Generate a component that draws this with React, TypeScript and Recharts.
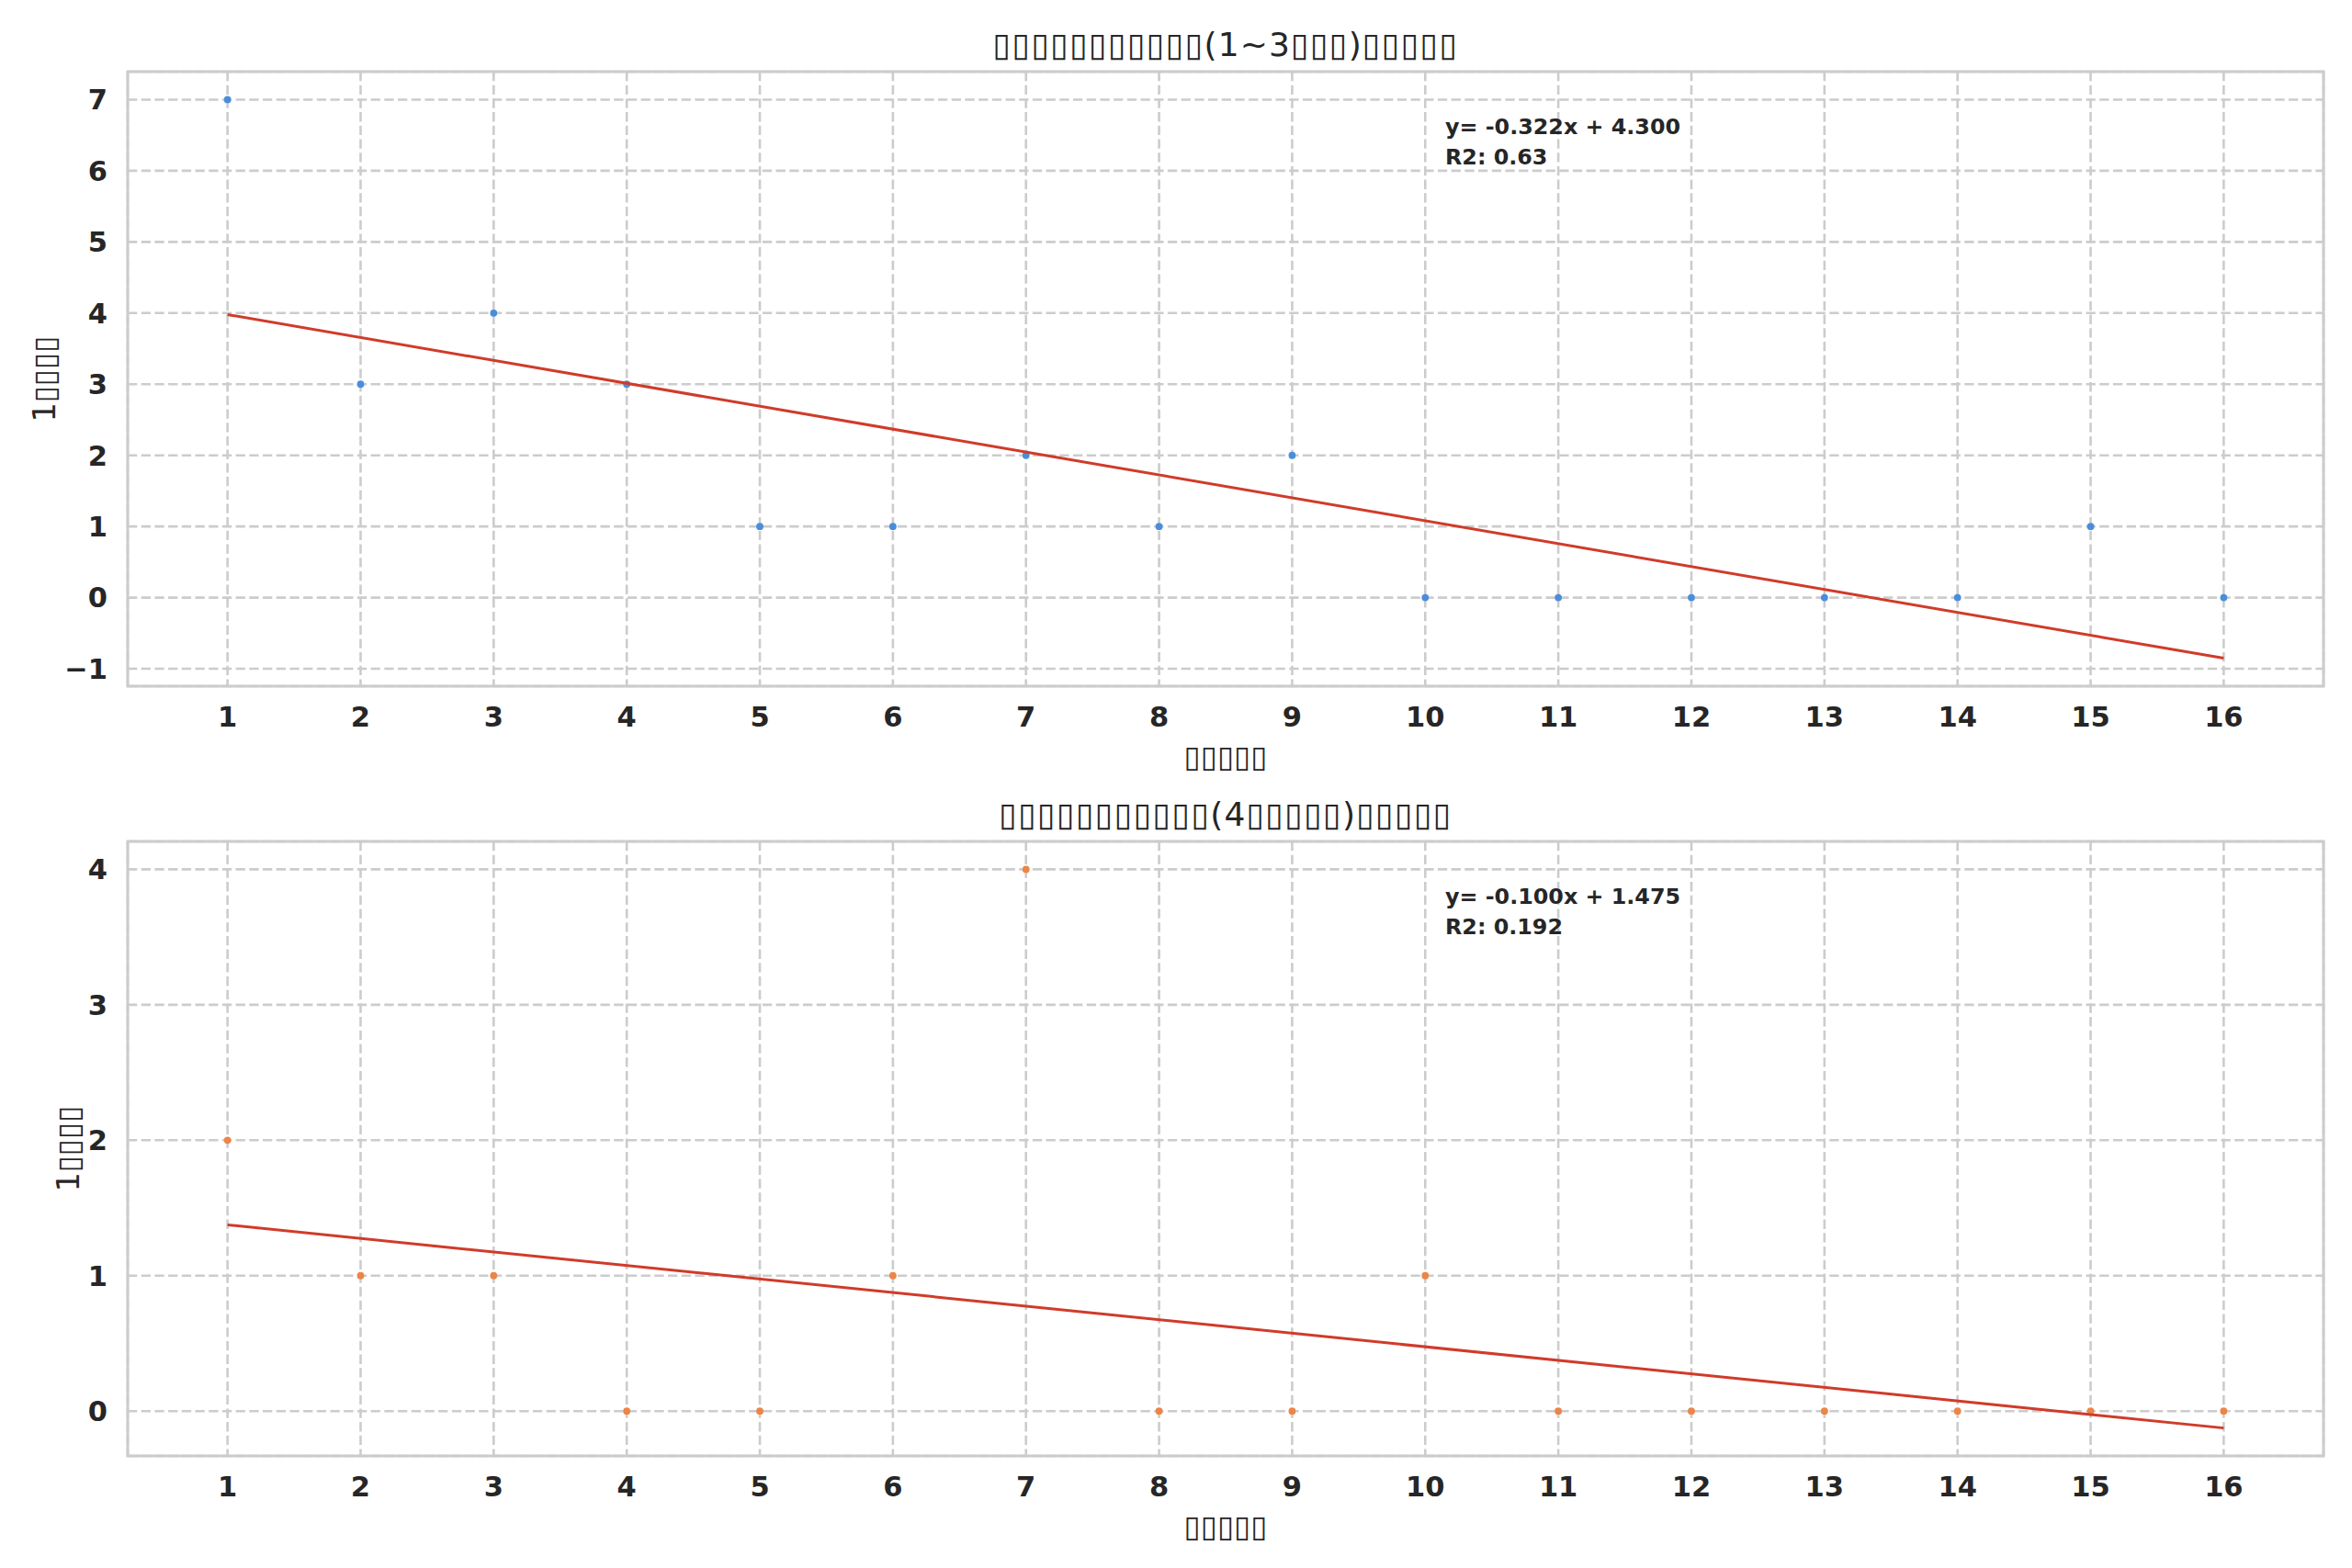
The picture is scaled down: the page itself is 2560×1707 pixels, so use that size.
import React from 'react';
import { ScatterChart, Scatter, XAxis, YAxis, CartesianGrid, ReferenceArea } from 'recharts';

// the source labels were CJK text drawn as missing-glyph boxes; keep them as boxes
const BOX = '\u25AF';

const weeks = [1, 2, 3, 4, 5, 6, 7, 8, 9, 10, 11, 12, 13, 14, 15, 16];
const earlyCounts = [7, 3, 4, 3, 1, 1, 2, 1, 2, 0, 0, 0, 0, 0, 1, 0];
const lateCounts = [2, 1, 1, 0, 0, 1, 4, 0, 0, 1, 0, 0, 0, 0, 0, 0];

const earlyFit = { slope: -0.322, intercept: 4.3, r2: '0.63' };
const lateFit = { slope: -0.1, intercept: 1.475, r2: '0.192' };

const xTicks = weeks;
const earlyYTicks = [-1, 0, 1, 2, 3, 4, 5, 6, 7];
const lateYTicks = [0, 1, 2, 3, 4];
const xDomain = [0.25, 16.75];
const earlyYDomain = [-1.245, 7.393];
const lateYDomain = [-0.331, 4.206];

const earlyTitle = BOX.repeat(11) + '(1~3' + BOX.repeat(3) + ')' + BOX.repeat(5);
const lateTitle = BOX.repeat(11) + '(4' + BOX.repeat(5) + ')' + BOX.repeat(5);
const xLabel = BOX.repeat(5);
const yLabel = '1' + BOX.repeat(4);

const FONT = '"DejaVu Sans", sans-serif';
const TEXT = '#262626';
const GRID = '#cccccc';
const FIT_RED = '#d03b2a';

const tickStyle = { fontSize: 30.5, fontWeight: 700, fill: TEXT, fontFamily: FONT };

const fmtTick = (v: number) => (v < 0 ? '\u2212' + Math.abs(v) : String(v));

interface PanelProps {
  top: number;
  height: number;
  xAxisHeight: number;
  counts: number[];
  color: string;
  fit: { slope: number; intercept: number; r2: string };
  yTicks: number[];
  yDomain: number[];
  title: string;
  yLabelX: number;
}

function Dot(props: any) {
  const { cx, cy, fill } = props;
  if (cx == null || cy == null) return <g />;
  return <circle cx={cx} cy={cy} r={3.9} fill={fill} />;
}

function Panel({ top, height, xAxisHeight, counts, color, fit, yTicks, yDomain, title, yLabelX }: PanelProps) {
  const points = weeks.map((w, i) => ({ x: w, y: counts[i] }));
  const first = weeks[0];
  const last = weeks[weeks.length - 1];
  const fitLine = [
    { x: first, y: fit.slope * first + fit.intercept },
    { x: last, y: fit.slope * last + fit.intercept },
  ];
  const plotTop = 78;

  return (
    <div style={{ position: 'absolute', left: 0, top, width: 2560, height }}>
      <ScatterChart
        width={2560}
        height={height}
        margin={{ top: plotTop, right: 31, bottom: 0, left: 0 }}
      >
        <CartesianGrid stroke={GRID} strokeWidth={2.6} strokeDasharray="10.3 4.4" />
        <XAxis
          type="number"
          dataKey="x"
          domain={xDomain}
          ticks={xTicks}
          allowDataOverflow
          height={xAxisHeight}
          axisLine={false}
          tickLine={false}
          tickSize={0}
          tickMargin={22}
          tick={tickStyle}
          interval={0}
          label={(p: any) => {
            const vb = p.viewBox;
            return (
              <text
                x={vb.x + vb.width / 2}
                y={vb.y + 76}
                textAnchor="middle"
                dominantBaseline="central"
                fontFamily={FONT}
                fontSize={33}
                fill={TEXT}
              >
                {xLabel}
              </text>
            );
          }}
        />
        <YAxis
          type="number"
          dataKey="y"
          domain={yDomain}
          ticks={yTicks}
          allowDataOverflow
          width={139}
          axisLine={false}
          tickLine={false}
          tickSize={0}
          tickMargin={22}
          tick={tickStyle}
          tickFormatter={fmtTick}
          interval={0}
          label={(p: any) => {
            const vb = p.viewBox;
            const cy = vb.y + vb.height / 2;
            return (
              <text
                x={yLabelX}
                y={cy}
                transform={`rotate(-90, ${yLabelX}, ${cy})`}
                textAnchor="middle"
                dominantBaseline="central"
                fontFamily={FONT}
                fontSize={33}
                fill={TEXT}
              >
                {yLabel}
              </text>
            );
          }}
        />
        <Scatter data={points} fill={color} shape={Dot} isAnimationActive={false} />
        <Scatter
          data={fitLine}
          fill={FIT_RED}
          line={{ stroke: FIT_RED, strokeWidth: 3 }}
          lineType="joint"
          shape={() => <g />}
          isAnimationActive={false}
        />
        <ReferenceArea
          x1={xDomain[0]}
          x2={xDomain[1]}
          y1={yDomain[0]}
          y2={yDomain[1]}
          fill="none"
          fillOpacity={0}
          stroke={GRID}
          strokeWidth={3}
          ifOverflow="visible"
        />
      </ScatterChart>
      <div
        style={{
          position: 'absolute',
          left: 139,
          width: 2390,
          top: 29,
          textAlign: 'center',
          fontFamily: FONT,
          fontSize: 36,
          letterSpacing: '1.1px',
          color: TEXT,
          lineHeight: '40px',
        }}
      >
        {title}
      </div>
      <div
        style={{
          position: 'absolute',
          left: 1573,
          top: plotTop + 44,
          fontFamily: FONT,
          fontSize: 23.8,
          fontWeight: 700,
          color: TEXT,
          lineHeight: '33px',
          whiteSpace: 'pre',
        }}
      >
        {`y= ${fit.slope.toFixed(3)}x + ${fit.intercept.toFixed(3)}\nR2: ${fit.r2}`}
      </div>
    </div>
  );
}

export default function App() {
  return (
    <div style={{ position: 'absolute', left: 0, top: 0, width: 2560, height: 1707, background: '#ffffff' }}>
      <Panel
        top={0}
        height={860}
        xAxisHeight={113}
        counts={earlyCounts}
        color="#4a8edb"
        fit={earlyFit}
        yTicks={earlyYTicks}
        yDomain={earlyYDomain}
        title={earlyTitle}
        yLabelX={48}
      />
      <Panel
        top={838}
        height={869}
        xAxisHeight={122}
        counts={lateCounts}
        color="#ec8548"
        fit={lateFit}
        yTicks={lateYTicks}
        yDomain={lateYDomain}
        title={lateTitle}
        yLabelX={74}
      />
    </div>
  );
}
